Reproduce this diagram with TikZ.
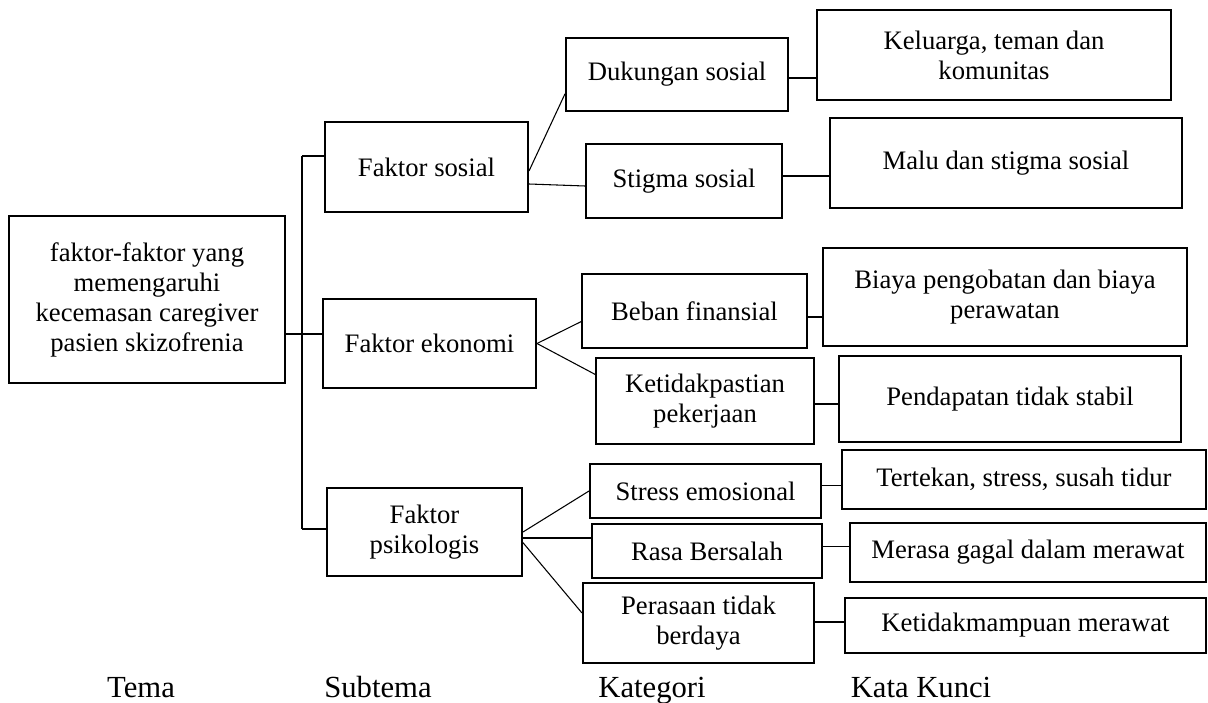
\documentclass[tikz,border=0pt]{standalone}
\usepackage{fontspec}
\setmainfont{Liberation Serif}
\tikzset{%
   box/.style={draw, line width=1.5pt, align=center, inner sep=0pt,
     font=\fontsize{20}{22.5}\selectfont},
   sz/.style 2 args={minimum width=#1*.75pt, minimum height=#2*.75pt},
   link/.style={line width=.8pt},
   head/.style={anchor=base, font=\fontsize{23}{26}\selectfont},
}

\begin{document}
\begin{tikzpicture}[x=.75pt, y=-.75pt]
   \useasboundingbox (0,0) rectangle (1208,703);
   % tema
   \node[box, sz={276}{167}] (tema) at (147,299.5) {faktor-faktor yang\\memengaruhi\\kecemasan caregiver\\pasien skizofrenia};
   % subtema
   \node[box, sz={203}{90}] (sosial) at (426.5,167) {Faktor sosial};
   \node[box, sz={213}{89}] (ekonomi) at (429.5,343.5) {Faktor ekonomi};
   \node[box, sz={195}{88}] (psikologis) at (424.5,532) {Faktor\\psikologis};
   % kategori
   \node[box, sz={222}{73}] (dukungan) at (677,74.5) {Dukungan sosial};
   \node[box, sz={196}{74}] (stigma) at (684,181) {Stigma sosial};
   \node[box, sz={225}{74}] (beban) at (694.5,311) {Beban finansial};
   \node[box, sz={218}{86}] (ketidakpastian) at (705,401) {Ketidakpastian\\pekerjaan};
   \node[box, sz={231}{54}] (stress) at (705.5,491) {Stress emosional};
   \node[box, sz={230}{54}] (rasa) at (707,551) {Rasa Bersalah};
   \node[box, sz={231}{80}] (perasaan) at (698.5,623) {Perasaan tidak\\berdaya};
   % kata kunci
   \node[box, sz={354}{90}] (keluarga) at (994,55) {Keluarga, teman dan\\komunitas};
   \node[box, sz={352}{90}] (malu) at (1006,163) {Malu dan stigma sosial};
   \node[box, sz={364}{98}] (biaya) at (1005,297) {Biaya pengobatan dan biaya\\perawatan};
   \node[box, sz={342}{86}] (pendapatan) at (1010,399) {Pendapatan tidak stabil};
   \node[box, sz={364}{59}] (tertekan) at (1024,479.5) {Tertekan, stress, susah tidur};
   \node[box, sz={356}{59}] (merasa) at (1028,552.5) {Merasa gagal dalam merawat};
   \node[box, sz={361}{55}] (ketidakmampuan) at (1025.5,625.5) {Ketidakmampuan merawat};

   \coordinate (j1) at (302,156);
   \coordinate (j2) at (302,334);
   \coordinate (j3) at (302,529);
   \draw[link] (j1) -- (j3);
   \draw[link] (j1) -- (j1 -| sosial.west);
   \draw[link] (j2 -| tema.east) -- (j2 -| ekonomi.west);
   \draw[link] (j3) -- (j3 -| psikologis.west);

   \draw[link] ([yshift=-3pt]sosial.east) -- ([yshift=-14.5pt]dukungan.west);
   \draw[link] ([yshift=-12.75pt]sosial.east) -- ([yshift=-3.75pt]stigma.west);
   \draw[link] (ekonomi.east) -- ([yshift=-8pt]beban.west);
   \draw[link] (ekonomi.east) -- ([yshift=20pt]ketidakpastian.west);
   \draw[link] (psikologis.east) -- (stress.west);
   \draw[link] ([yshift=-4.5pt]psikologis.east) -- ([yshift=9.75pt]rasa.west);
   \draw[link] ([yshift=-8pt]psikologis.east) -- ([yshift=7.5pt]perasaan.west);

   \foreach \a/\b/\s in {dukungan/keluarga/-2.6pt, stigma/malu/3.75pt,
       beban/biaya/-4.5pt, ketidakpastian/pendapatan/-2.25pt,
       stress/tertekan/4pt, rasa/merasa/3.4pt, perasaan/ketidakmampuan/.75pt}
     \draw[link] ([yshift=\s]\a.east) coordinate (c) -- (c -| \b.west);

   \node[head] (h1) at (141,697) {Tema};
   \node[head] (h2) at (378,697) {Subtema};
   \node[head] (h3) at (652,697) {Kategori};
   \node[head] (h4) at (921,697) {Kata Kunci};
\end{tikzpicture}
\end{document}
